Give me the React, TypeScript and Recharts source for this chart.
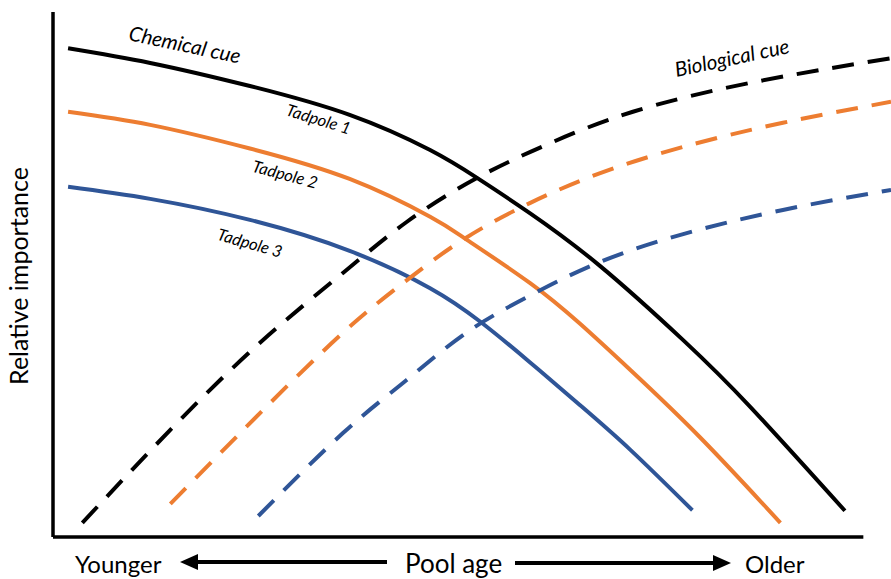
import { LineChart, Line, XAxis, YAxis, ReferenceLine, ReferenceDot, Customized } from 'recharts'

// Pool age runs 0..100 (left to right), relative importance 0..100
const chemicalCue = [
  { x: 1.8, y: 93.1 }, { x: 11.6, y: 90.3 }, { x: 23.5, y: 85.9 }, { x: 35.4, y: 80.4 },
  { x: 45.0, y: 73.7 }, { x: 50.6, y: 68.4 }, { x: 56.9, y: 61.7 }, { x: 65.3, y: 51.6 },
  { x: 75.2, y: 37.5 }, { x: 83.2, y: 24.8 }, { x: 94.5, y: 5.0 },
]
const tadpole2Chem = [
  { x: 1.8, y: 81.0 }, { x: 11.6, y: 78.5 }, { x: 23.5, y: 74.0 }, { x: 35.4, y: 68.2 },
  { x: 45.0, y: 61.0 }, { x: 49.4, y: 56.6 }, { x: 56.9, y: 48.4 }, { x: 62.9, y: 40.6 },
  { x: 68.9, y: 31.8 }, { x: 77.2, y: 19.0 }, { x: 86.8, y: 2.7 },
]
const tadpole3Chem = [
  { x: 1.8, y: 66.7 }, { x: 11.6, y: 64.4 }, { x: 23.5, y: 60.4 }, { x: 35.4, y: 54.5 },
  { x: 45.0, y: 47.4 }, { x: 51.0, y: 41.0 }, { x: 56.9, y: 33.3 }, { x: 62.9, y: 25.1 },
  { x: 68.9, y: 16.6 }, { x: 76.3, y: 5.1 },
]
const biologicalCue = [
  { x: 3.5, y: 2.7 }, { x: 14.0, y: 20.4 }, { x: 24.7, y: 37.0 }, { x: 34.6, y: 50.3 },
  { x: 42.2, y: 60.0 }, { x: 50.6, y: 68.4 }, { x: 59.3, y: 75.0 }, { x: 69.2, y: 81.0 },
  { x: 83.2, y: 86.5 }, { x: 100, y: 91.2 },
]
const tadpole2Bio = [
  { x: 14.0, y: 6.3 }, { x: 24.7, y: 23.6 }, { x: 34.6, y: 38.9 }, { x: 41.8, y: 48.4 },
  { x: 48.9, y: 56.6 }, { x: 56.9, y: 63.6 }, { x: 65.3, y: 69.3 }, { x: 75.2, y: 74.3 },
  { x: 87.1, y: 78.9 }, { x: 100, y: 82.9 },
]
const tadpole3Bio = [
  { x: 24.5, y: 4.0 }, { x: 34.6, y: 19.8 }, { x: 42.2, y: 29.9 }, { x: 49.4, y: 39.0 },
  { x: 57.3, y: 46.3 }, { x: 65.3, y: 52.4 }, { x: 75.2, y: 57.7 }, { x: 87.1, y: 62.3 },
  { x: 100, y: 66.1 },
]

const annotations = [
  { text: 'Chemical cue', x: 15.75, y: 93.9, angle: 12, size: 20.5 },
  { text: 'Biological cue', x: 81.0, y: 91.4, angle: -12, size: 20.5 },
  { text: 'Tadpole 1', x: 31.7, y: 79.6, angle: 17, size: 16.5 },
  { text: 'Tadpole 2', x: 27.7, y: 69.1, angle: 15, size: 16.5 },
  { text: 'Tadpole 3', x: 23.5, y: 56.0, angle: 16, size: 16.5 },
]

const BLACK = '#000000'
const ORANGE = '#ED7D31'
const BLUE = '#2F5597'
const FONT = 'Lato, "Open Sans", sans-serif'

function rotLabel(text: string, angle: number, size: number) {
  return (props: any) => {
    const vb = props.viewBox || {}
    const cx = vb.x + (vb.width || 0) / 2
    const cy = vb.y + (vb.height || 0) / 2
    return (
      <text
        x={cx}
        y={cy}
        textAnchor="middle"
        dominantBaseline="central"
        fontFamily={FONT}
        fontStyle="italic"
        fontSize={size}
        fill="#000"
        transform={`rotate(${angle} ${cx} ${cy})`}
      >
        {text}
      </text>
    )
  }
}

function AxisTitles() {
  return (
    <g fontFamily={FONT} fill="#000">
      <text x={18} y={276} fontSize={25} textAnchor="middle" dominantBaseline="central" transform="rotate(-90 18 276)">
        Relative importance
      </text>
      <text x={75} y={573} fontSize={24}>Younger</text>
      <line x1={196} y1={562} x2={387} y2={562} stroke="#000" strokeWidth={4} />
      <polygon points="180,562 198,554 198,570" fill="#000" />
      <text x={405} y={573} fontSize={26}>Pool age</text>
      <line x1={515} y1={563} x2={714} y2={563} stroke="#000" strokeWidth={4} />
      <polygon points="731,563 713,555 713,571" fill="#000" />
      <text x={745} y={573} fontSize={24}>Older</text>
    </g>
  )
}

export default function App() {
  return (
    <div style={{ position: 'absolute', left: 0, top: 0, background: '#fff' }}>
      <LineChart width={891} height={579} margin={{ top: 12, right: 0, left: 53, bottom: 42 }}>
        <XAxis type="number" dataKey="x" domain={[0, 100]} hide allowDataOverflow />
        <YAxis type="number" domain={[0, 100]} hide allowDataOverflow />
        <ReferenceLine
          segment={[{ x: 0, y: 100 }, { x: 0, y: 0 }]}
          stroke="#000"
          strokeWidth={3.5}
          ifOverflow="visible"
        />
        <ReferenceLine
          segment={[{ x: 0, y: 0 }, { x: 96.7, y: 0 }]}
          stroke="#000"
          strokeWidth={3.5}
          ifOverflow="visible"
        />
        <Line data={chemicalCue} dataKey="y" type="natural" stroke={BLACK} strokeWidth={4} dot={false} isAnimationActive={false} />
        <Line data={tadpole2Chem} dataKey="y" type="natural" stroke={ORANGE} strokeWidth={4} dot={false} isAnimationActive={false} />
        <Line data={tadpole3Chem} dataKey="y" type="natural" stroke={BLUE} strokeWidth={4} dot={false} isAnimationActive={false} />
        <Line data={biologicalCue} dataKey="y" type="natural" stroke={BLACK} strokeWidth={4} strokeDasharray="22 14" dot={false} isAnimationActive={false} />
        <Line data={tadpole2Bio} dataKey="y" type="natural" stroke={ORANGE} strokeWidth={4} strokeDasharray="22 14" dot={false} isAnimationActive={false} />
        <Line data={tadpole3Bio} dataKey="y" type="natural" stroke={BLUE} strokeWidth={4} strokeDasharray="22 14" dot={false} isAnimationActive={false} />
        {annotations.map((a) => (
          <ReferenceDot
            key={a.text}
            x={a.x}
            y={a.y}
            r={0}
            fill="none"
            stroke="none"
            ifOverflow="visible"
            label={rotLabel(a.text, a.angle, a.size)}
          />
        ))}
        <Customized component={AxisTitles} />
      </LineChart>
    </div>
  )
}
